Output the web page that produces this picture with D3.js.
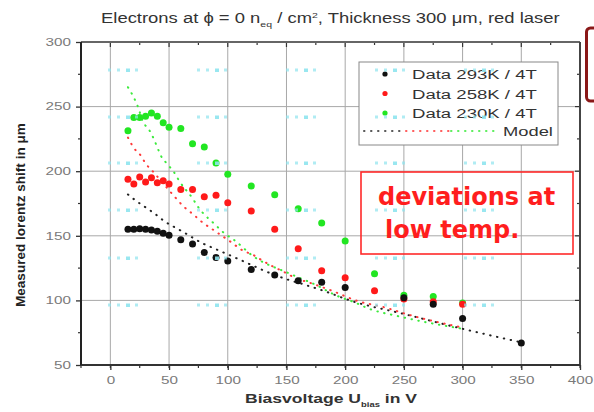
<!DOCTYPE html>
<html>
<head>
<meta charset="utf-8">
<script src="https://cdn.jsdelivr.net/npm/d3@7"></script>
<style>
  body { margin: 0; background: #fff; }
  svg { display: block; font-family: "Liberation Sans", Arial, sans-serif; }
</style>
</head>
<body>
<svg id="chart" width="594" height="412"></svg>
<script>
// measured data: bias voltage (V) -> lorentz shift (um)
const volt293 = [15, 20, 25, 30, 35, 40, 45, 50, 60, 70, 80, 90, 100, 120, 140, 160, 180, 200, 250, 275, 300, 350];
const shift293 = [155, 155, 155.5, 155, 154.5, 153.5, 152, 150.5, 147, 143.6, 137, 133.3, 130.5, 124, 119.6, 115.2, 114, 110, 102, 97, 86, 67];

const volt258 = [15, 20, 25, 30, 35, 40, 45, 50, 60, 70, 80, 90, 100, 120, 140, 160, 180, 200, 225, 250, 275, 300];
const shift258 = [193.7, 190, 195.6, 191.6, 195, 191, 192.7, 190, 185.9, 185.9, 180.3, 181.3, 175.6, 169.2, 155, 140, 123, 117.6, 107.5, 101, 99, 97];

const volt230 = [15, 20, 25, 30, 35, 40, 45, 50, 60, 70, 80, 90, 100, 120, 140, 160, 180, 200, 225, 250, 275, 300];
const shift230 = [231.3, 241.5, 241.5, 242.5, 245, 242.5, 237.5, 234, 233, 221.3, 218.8, 206.3, 197.6, 188.5, 181.8, 171, 160, 146, 120.7, 104, 103, 98];

// model curves
const modelV293 = [15, 22, 30, 38, 45, 62, 79, 89, 114, 131, 148, 166, 183, 204, 250, 300, 350];
const modelS293 = [182, 177, 172, 167, 162, 153, 144, 140, 130, 123, 117, 112, 107, 100, 89.5, 78, 67.5];

const modelV258 = [15, 20, 26, 30, 36, 55, 62, 70, 79, 87, 95, 103, 112, 122, 131, 139, 148, 156, 172, 190, 209, 236, 250, 300];
const modelS258 = [226, 218, 212, 206, 200, 180, 173, 167, 160, 155, 150, 145, 139, 135, 130, 126, 122, 118, 113, 107, 100, 94, 90, 79];

const modelV230 = [15, 20, 23, 28, 33, 37, 40, 43, 48, 54, 59, 70, 75, 90, 97, 105, 122, 152, 175, 192, 210, 219, 244, 300];
const modelS230 = [265, 257, 251, 238, 232, 225, 218.5, 212, 206, 199.5, 192, 179, 172, 158, 152, 147, 134, 121, 112, 104, 97.7, 94, 88, 78];

const xTicks = [0, 50, 100, 150, 200, 250, 300, 350, 400];
const yTicks = [50, 100, 150, 200, 250, 300];
const legendLabels = ["Data 293K / 4T", "Data 258K / 4T", "Data 230K / 4T"];

const BLACK = "#111", RED = "#ff1a1a", GREEN = "#22e622";

const svg = d3.select("#chart");

const x = d3.scaleLinear().domain([-25, 400]).range([81, 580]);
const y = d3.scaleLinear().domain([50, 300]).range([365, 42]);

// the source image is stretched sideways, so scale texts horizontally to their width
function stretch(sel, x0, y0, w, rot) {
  const cur = sel.node().getComputedTextLength();
  sel.attr("x", 0).attr("y", 0)
    .attr("transform", `translate(${x0},${y0})${rot ? ` rotate(${rot})` : ""} scale(${(w / cur).toFixed(3)},1)`);
}

// gridlines
const grid = svg.append("g").attr("stroke", "#a8a8a8").attr("stroke-width", 1);
grid.selectAll("line.v").data(xTicks.filter(d => d > -25 && d < 400)).join("line")
  .attr("x1", d => x(d)).attr("x2", d => x(d)).attr("y1", y(300)).attr("y2", y(50));
grid.selectAll("line.h").data(yTicks.filter(d => d > 50 && d < 300)).join("line")
  .attr("class", "h")
  .attr("x1", x(-25)).attr("x2", x(400)).attr("y1", d => y(d)).attr("y2", d => y(d));

// axes
const xMinor = d3.range(-25, 401, 25);
const yMinor = d3.range(75, 300, 50);

const bottom = svg.append("g").attr("transform", `translate(0,${y(50)})`)
  .call(d3.axisBottom(x).tickValues(xTicks).tickSize(5));
const left = svg.append("g").attr("transform", `translate(${x(-25)},0)`)
  .call(d3.axisLeft(y).tickValues(yTicks).tickSize(5));
[bottom, left].forEach(g => {
  g.select(".domain").remove();
  g.selectAll(".tick line").attr("stroke", "#333").attr("stroke-width", 1.3);
  g.selectAll(".tick text").attr("fill", "#7a7a7a").attr("font-size", 10.5);
});
bottom.selectAll(".tick text").attr("y", 0).attr("dy", "0.32em")
  .attr("transform", "translate(0,16) scale(1.45,1)");
left.selectAll(".tick text").attr("x", 0)
  .attr("transform", "translate(-10,0) scale(1.45,1)");

// minor ticks
const ticks = svg.append("g").attr("stroke", "#333").attr("stroke-width", 1.2);
ticks.selectAll("line.bm").data(xMinor).join("line").attr("class", "bm")
  .attr("x1", d => x(d)).attr("x2", d => x(d)).attr("y1", y(50)).attr("y2", y(50) + 3);
ticks.selectAll("line.tm").data(xMinor).join("line").attr("class", "tm")
  .attr("x1", d => x(d)).attr("x2", d => x(d)).attr("y1", y(300))
  .attr("y2", d => y(300) + (d % 50 === 0 ? 5 : 3));
ticks.selectAll("line.lm").data(yMinor).join("line").attr("class", "lm")
  .attr("x1", x(-25) - 3).attr("x2", x(-25)).attr("y1", d => y(d)).attr("y2", d => y(d));
ticks.selectAll("line.rm").data(d3.range(50, 301, 25)).join("line").attr("class", "rm")
  .attr("x1", d => x(400) - (d % 50 === 0 ? 5 : 3)).attr("x2", x(400))
  .attr("y1", d => y(d)).attr("y2", d => y(d));

// frame
const frame = svg.append("g").attr("fill", "none");
frame.append("line").attr("x1", x(-25)).attr("x2", x(400)).attr("y1", y(300)).attr("y2", y(300))
  .attr("stroke", "#666").attr("stroke-width", 2);
frame.append("line").attr("x1", x(400)).attr("x2", x(400)).attr("y1", y(300)).attr("y2", y(50))
  .attr("stroke", "#444").attr("stroke-width", 2);
frame.append("line").attr("x1", x(-25)).attr("x2", x(400)).attr("y1", y(50)).attr("y2", y(50))
  .attr("stroke", "#333").attr("stroke-width", 2);
frame.append("line").attr("x1", x(-25)).attr("x2", x(-25)).attr("y1", y(300)).attr("y2", y(50))
  .attr("stroke", "#222").attr("stroke-width", 2);

// model curves
const line = d3.line().x(d => x(d[0])).y(d => y(d[1])).curve(d3.curveMonotoneX);
const models = [
  { v: modelV293, s: modelS293, c: "#222" },
  { v: modelV258, s: modelS258, c: "#ff3a3a" },
  { v: modelV230, s: modelS230, c: "#3cea3c" }
];
svg.append("g").selectAll("path").data(models).join("path")
  .attr("d", m => line(d3.zip(m.v, m.s)))
  .attr("fill", "none").attr("stroke", m => m.c).attr("stroke-width", 2)
  .attr("stroke-linecap", "round").attr("stroke-dasharray", "0.5,6.5");

// data points
const series = [
  { v: volt230, s: shift230, c: GREEN },
  { v: volt258, s: shift258, c: RED },
  { v: volt293, s: shift293, c: BLACK }
];
series.forEach(sr => {
  svg.append("g").selectAll("circle").data(d3.zip(sr.v, sr.s)).join("circle")
    .attr("cx", d => x(d[0])).attr("cy", d => y(d[1])).attr("r", 3.5)
    .attr("fill", sr.c);
});

// legend
const lg = svg.append("g");
lg.append("rect").attr("x", 359).attr("y", 62).attr("width", 199).attr("height", 83)
  .attr("fill", "#fff").attr("stroke", "#888").attr("stroke-width", 1);
[BLACK, RED, GREEN].forEach((c, i) => {
  lg.append("circle").attr("cx", 385).attr("cy", 74 + i * 19.5).attr("r", 2.6).attr("fill", c);
  const t = lg.append("text").attr("font-size", 13.5).attr("fill", "#333").text(legendLabels[i]);
  stretch(t, 412, 79 + i * 19.5, 125);
});
[["#555", 363, 405], ["#ff5a5a", 405, 450], ["#5cee5c", 450, 500]].forEach(([c, a, b]) => {
  lg.append("line").attr("x1", a + 1).attr("x2", b).attr("y1", 131).attr("y2", 131)
    .attr("stroke", c).attr("stroke-width", 2).attr("stroke-linecap", "round")
    .attr("stroke-dasharray", "0.5,6.5");
});
const mt = lg.append("text").attr("font-size", 13.5).attr("fill", "#333").text("Model");
stretch(mt, 503, 136, 50);

// annotation box
svg.append("rect").attr("x", 361).attr("y", 172).attr("width", 212).attr("height", 82)
  .attr("fill", "none").attr("stroke", "#ff2a2a").attr("stroke-width", 1.6);
const ann = svg.append("g").attr("font-family", "DejaVu Sans, sans-serif")
  .attr("font-weight", "bold").attr("font-size", 24).attr("fill", "#ff1e1e");
ann.append("text").attr("x", 378).attr("y", 205).text("deviations at");
ann.append("text").attr("x", 385).attr("y", 238).text("low temp.");

// cut-off box at the right edge
svg.append("rect").attr("x", 586.5).attr("y", 28).attr("width", 30).attr("height", 73).attr("rx", 4)
  .attr("fill", "none").attr("stroke", "#8a1818").attr("stroke-width", 3);

// title
const title = svg.append("text").attr("font-size", 14).attr("fill", "#333");
title.append("tspan").text("Electrons at \u03d5 = 0 n");
title.append("tspan").attr("font-size", 8).attr("dy", 4).text("eq");
title.append("tspan").attr("dy", -4).text(" / cm");
title.append("tspan").attr("font-size", 8).attr("dy", -5).text("2");
title.append("tspan").attr("dy", 5).text(", Thickness 300 \u03bcm, red laser");
stretch(title, 101, 23, 459);

// axis titles
const xt = svg.append("text").attr("font-size", 13).attr("font-weight", "bold").attr("fill", "#333");
xt.append("tspan").text("Biasvoltage U");
xt.append("tspan").attr("font-size", 7).attr("dy", 4).text("bias");
xt.append("tspan").attr("dy", -4).text(" in V");
stretch(xt, 245, 403, 172);

const yt = svg.append("text").attr("font-size", 12).attr("font-weight", "bold").attr("fill", "#222")
  .text("Measured lorentz shift in \u03bcm");
stretch(yt, 25, 307, 184, -90);

// faint cyan marks scattered over the plot area
const markCols = [108, 197, 286, 375, 464];
const markRows = [70, 117, 163, 210, 258, 305];
const marks = svg.append("g").attr("fill", "#8ee4ee");
markRows.forEach(r => markCols.forEach(c => {
  [0, 9, 18, 27].forEach((o, k) => {
    marks.append("rect").attr("x", c + o).attr("y", r - 1.5)
      .attr("width", k === 2 ? 4 : 3).attr("height", k === 2 ? 3.5 : 3)
      .attr("opacity", k === 2 ? 0.9 : 0.7);
  });
}));
</script>
</body>
</html>
